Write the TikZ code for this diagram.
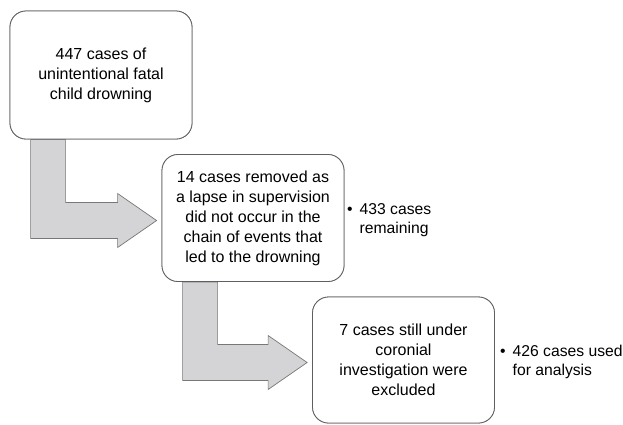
\documentclass[tikz,border=0pt]{standalone}
\usepackage{fontspec}
\setmainfont{Liberation Sans}
\usetikzlibrary{calc}
\definecolor{boxline}{RGB}{95,95,95}
\definecolor{flowfill}{RGB}{212,212,214}
\tikzset{
  stage/.style={draw=boxline, fill=white, line width=0.8pt, rounded corners=16pt,
    minimum width=182pt, minimum height=127pt, align=center, inner sep=0pt,
    font=\fontsize{16}{20}\selectfont},
  note/.style={align=left, anchor=west, inner sep=0pt, font=\fontsize{15.7}{19}\selectfont},
  flow/.style={draw=boxline!85, fill=flowfill, line width=0.7pt}
}
\newcommand{\bul}{\textbullet\hspace{7pt}}
% L-shaped block arrow from the bottom of one box to the left side of the next
\newcommand{\lflow}[2]{%
  \draw[flow] let \p1=(#1.south west), \p2=($(#2.west)+(0,2.5)$) in
    (\x1+21pt,\y1) -- (\x1+56pt,\y1) -- (\x1+56pt,\y2+18pt) -- (\x2-44pt,\y2+18pt)
    -- (\x2-44pt,\y2+27pt) -- (\x2-5pt,\y2) -- (\x2-44pt,\y2-27pt)
    -- (\x2-44pt,\y2-18pt) -- (\x1+21pt,\y2-18pt) -- cycle;}
\begin{document}
\begin{tikzpicture}[x=1pt,y=-1pt]
  \useasboundingbox (0,0) rectangle (623,424);

  \node[stage, minimum height=128pt] (all) at (101,75) {447 cases of\\unintentional fatal\\child drowning};
  \node[stage] (lapse) at (253,218) {14 cases removed as\\a lapse in supervision\\did not occur in the\\chain of events that\\led to the drowning};
  \node[stage, minimum height=126pt] (coronial) at (403.5,360) {7 cases still under\\coronial\\investigation were\\excluded};

  \lflow{all}{lapse}
  \lflow{lapse}{coronial}

  % redraw boxes over the arrow stems
  \node[stage, minimum height=128pt] at (all) {447 cases of\\unintentional fatal\\child drowning};
  \node[stage] at (lapse) {14 cases removed as\\a lapse in supervision\\did not occur in the\\chain of events that\\led to the drowning};
  \node[stage, minimum height=126pt] at (coronial) {7 cases still under\\coronial\\investigation were\\excluded};

  \node[note] (remaining) at (347,220) {\bul 433 cases\\\hphantom{\bul}remaining};
  \node[note] (analysis) at (500,362) {\bul 426 cases used\\\hphantom{\bul}for analysis};
\end{tikzpicture}
\end{document}
